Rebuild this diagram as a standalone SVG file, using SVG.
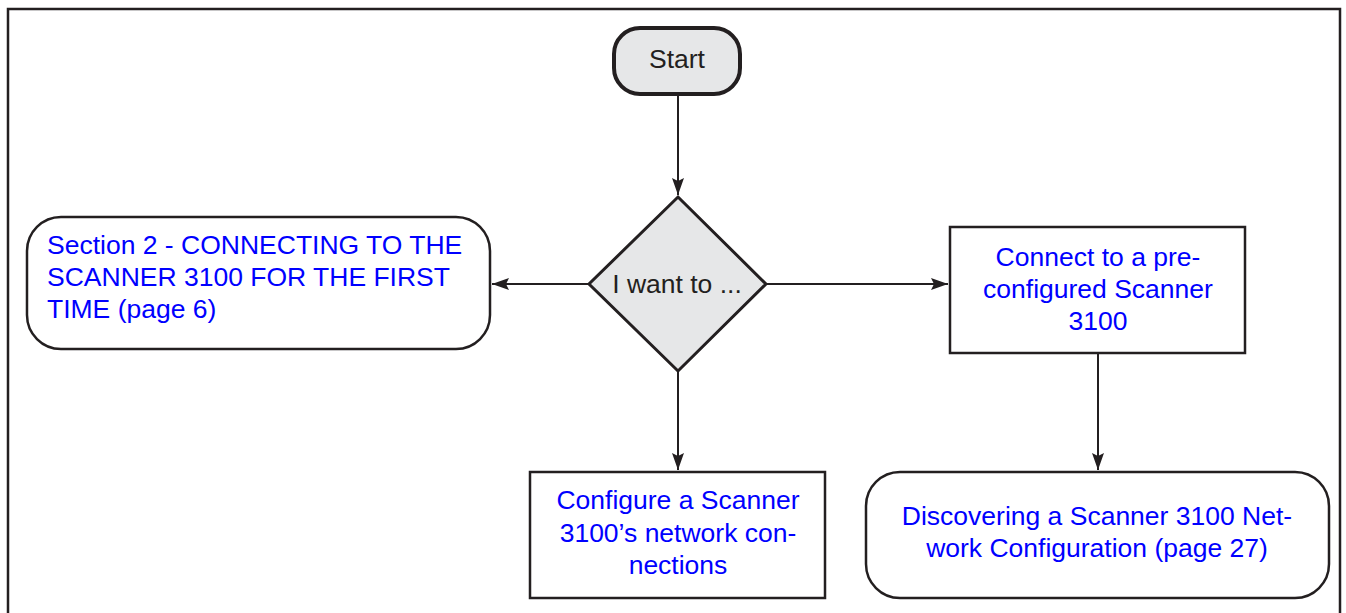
<svg xmlns="http://www.w3.org/2000/svg" width="1346" height="613" viewBox="0 0 1346 613">
<defs>
<style>
.t{font-family:"Liberation Sans",Arial,sans-serif;font-size:26.5px;fill:#0000ff}
.k{font-family:"Liberation Sans",Arial,sans-serif;font-size:26.5px;fill:#231f20}
.box{fill:#ffffff;stroke:#231f20;stroke-width:2.5}
.ln{stroke:#231f20;stroke-width:2;fill:none}
</style>
<marker id="a" viewBox="0 0 17 12" refX="17" refY="6" markerWidth="17" markerHeight="12" orient="auto" markerUnits="userSpaceOnUse">
<path d="M0,0 L17,6 L0,12 L3,6 z" fill="#231f20"/>
</marker>
</defs>
<rect x="0" y="0" width="1346" height="613" fill="#ffffff"/>
<path d="M8,620 V9 H1340 V620" fill="none" stroke="#231f20" stroke-width="2.5"/>
<g id="connectors">
<line class="ln" x1="678" y1="95" x2="678" y2="195" marker-end="url(#a)"/>
<line class="ln" x1="589" y1="284" x2="492" y2="284" marker-end="url(#a)"/>
<line class="ln" x1="766" y1="284" x2="948" y2="284" marker-end="url(#a)"/>
<line class="ln" x1="678" y1="371" x2="678" y2="470" marker-end="url(#a)"/>
<line class="ln" x1="1098" y1="353" x2="1098" y2="470" marker-end="url(#a)"/>
</g>
<g id="start">
<rect x="614" y="28" width="126" height="66" rx="26" fill="#e6e7e8" stroke="#231f20" stroke-width="4"/>
<text class="k" x="677" y="68" text-anchor="middle">Start</text>
</g>
<g id="decision">
<polygon points="678,197 766,284 678,371 589,284" fill="#e6e7e8" stroke="#231f20" stroke-width="3"/>
<text class="k" x="677" y="293" text-anchor="middle">I want to ...</text>
</g>
<g id="section2">
<rect class="box" x="27" y="217" width="463" height="132" rx="34"/>
<text class="t" x="47" y="254">Section 2 - CONNECTING TO THE</text>
<text class="t" x="47" y="286">SCANNER 3100 FOR THE FIRST</text>
<text class="t" x="47" y="318">TIME (page 6)</text>
</g>
<g id="preconfigured">
<rect class="box" x="950" y="227" width="295" height="126"/>
<text class="t" x="1098" y="266" text-anchor="middle">Connect to a pre-</text>
<text class="t" x="1098" y="298" text-anchor="middle">configured Scanner</text>
<text class="t" x="1098" y="330" text-anchor="middle">3100</text>
</g>
<g id="configure">
<rect class="box" x="530" y="472" width="295" height="126"/>
<text class="t" x="678" y="509" text-anchor="middle">Configure a Scanner</text>
<text class="t" x="678" y="542" text-anchor="middle">3100’s network con-</text>
<text class="t" x="678" y="574" text-anchor="middle">nections</text>
</g>
<g id="discovering">
<rect class="box" x="866" y="472" width="463" height="126" rx="34"/>
<text class="t" x="1097" y="525" text-anchor="middle">Discovering a Scanner 3100 Net-</text>
<text class="t" x="1097" y="557" text-anchor="middle">work Configuration (page 27)</text>
</g>
</svg>
